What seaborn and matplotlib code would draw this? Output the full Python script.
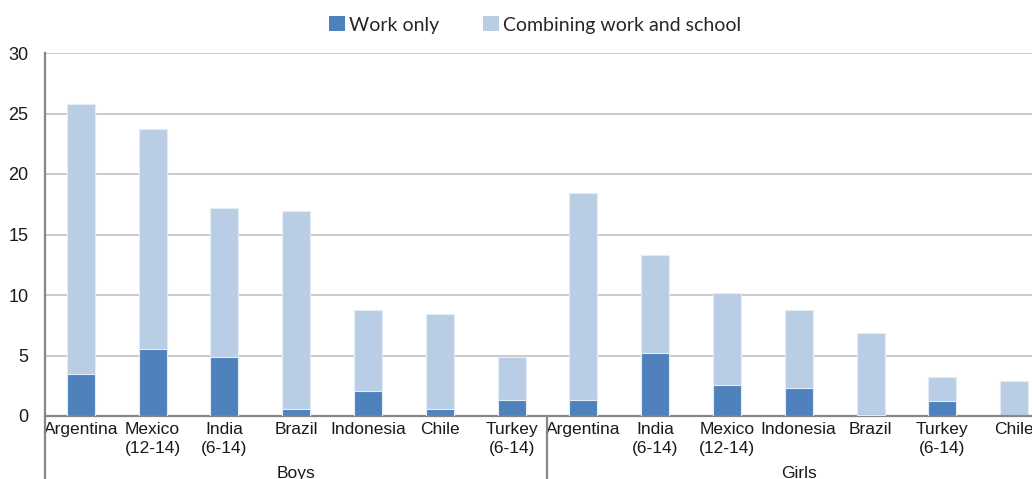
import matplotlib
matplotlib.use("Agg")
import matplotlib.pyplot as plt
import matplotlib.transforms as mtransforms
from matplotlib.patches import Patch
import pandas as pd
import seaborn as sns

# Share of children working, by sex and country (per cent)
groups = ["Boys"] * 7 + ["Girls"] * 7
countries = [
    "Argentina", "Mexico\n(12-14)", "India\n(6-14)", "Brazil", "Indonesia", "Chile", "Turkey\n(6-14)",
    "Argentina", "India\n(6-14)", "Mexico\n(12-14)", "Indonesia", "Brazil", "Turkey\n(6-14)", "Chile",
]
work_only = [3.5, 5.5, 4.9, 0.6, 2.1, 0.6, 1.3,
             1.35, 5.2, 2.6, 2.3, 0.1, 1.2, 0.0]
combining = [22.3, 18.2, 12.3, 16.35, 6.7, 7.8, 3.6,
             17.05, 8.1, 7.6, 6.5, 6.8, 2.0, 2.9]
yticks = [0, 5, 10, 15, 20, 25, 30]

dark = "#4F81BD"
light = "#B9CDE5"
grid_c = "#C6C6C6"
axis_c = "#868686"

keys = [f"{g}|{c}" for g, c in zip(groups, countries)]
df = pd.DataFrame({
    "key": keys,
    "work": work_only,
    "total": [w + c for w, c in zip(work_only, combining)],
})

sns.set_theme(style="white")
plt.rcParams["font.family"] = ["Liberation Sans", "DejaVu Sans"]

fig = plt.figure(figsize=(10.32, 4.79), dpi=100)
ax = fig.add_axes([45 / 1032, 63 / 479, 1005 / 1032, 363 / 479])

sns.barplot(data=df, x="key", y="total", order=keys, color=light, width=0.39,
            saturation=1, edgecolor="#E4ECF5", linewidth=0.8, ax=ax, zorder=2)
sns.barplot(data=df, x="key", y="work", order=keys, color=dark, width=0.39,
            saturation=1, edgecolor="#E4ECF5", linewidth=0.8, ax=ax, zorder=3)

ax.set_xlim(-0.5, len(keys) - 0.5)
ax.set_ylim(0, 30)
ax.set_yticks(yticks)
ax.set_yticklabels([str(t) for t in yticks], fontsize=13, color="#1A1A1A")
ax.yaxis.grid(True, color=grid_c, linewidth=1.3, zorder=0)
ax.set_axisbelow(True)
ax.set_xticks(range(len(keys)))
ax.set_xticklabels(countries, fontsize=12.5, color="#1A1A1A", linespacing=1.35)
ax.tick_params(axis="y", length=0, pad=12)
ax.tick_params(axis="x", length=0, pad=4)
ax.set_xlabel("")
ax.set_ylabel("")

for side in ["top", "right"]:
    ax.spines[side].set_visible(False)
for side in ["left", "bottom"]:
    ax.spines[side].set_color(axis_c)
    ax.spines[side].set_linewidth(1.6)

# Group separators and group labels below the category axis
trans = mtransforms.blended_transform_factory(ax.transData, ax.transAxes)
for xpos in [-0.5, 6.5]:
    ax.plot([xpos, xpos], [0, -0.2], transform=trans, color=axis_c,
            linewidth=1.6, clip_on=False, zorder=5)
for g, center in [("Boys", 3.0), ("Girls", 10.0)]:
    ax.text(center, -0.158, g, transform=trans, ha="center", va="center",
            fontsize=12.5, color="#1A1A1A")

handles = [Patch(facecolor=dark, edgecolor="none"),
           Patch(facecolor=light, edgecolor="none")]
fig.legend(handles, ["Work only", "Combining work and school"],
           loc="center", bbox_to_anchor=(535 / 1032, 1 - 25 / 479), ncol=2,
           frameon=False, handlelength=0.8, handleheight=0.8,
           handletextpad=0.2, columnspacing=2.3,
           prop={"family": ["Lato", "DejaVu Sans"], "size": 14})

fig.savefig("out.png", dpi=100)
